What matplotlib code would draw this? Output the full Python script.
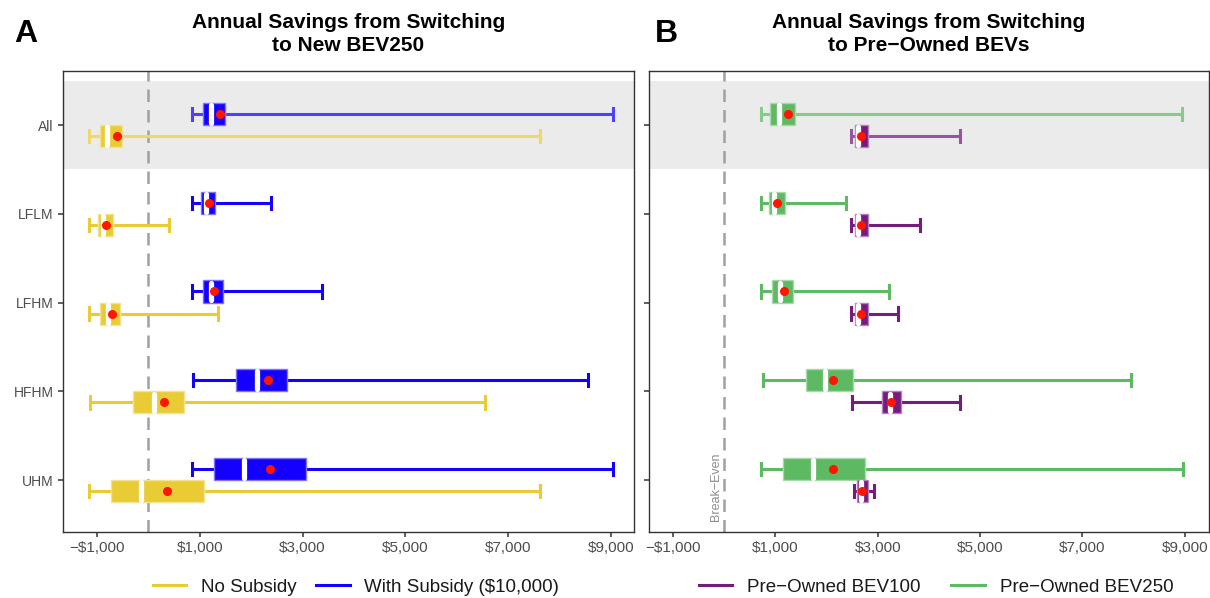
import matplotlib
matplotlib.use("Agg")
import matplotlib.pyplot as plt
from matplotlib.lines import Line2D

plt.rcParams["font.family"] = ["Liberation Sans", "DejaVu Sans"]

# Vehicle-use segments, top to bottom
categories = ["All", "LFLM", "LFHM", "HFHM", "UHM"]

# Box summaries per segment: whisker low, Q1, median, Q3, whisker high, mean
no_subsidy_lo = [-1157, -1157, -1151, -1136, -1151]
no_subsidy_q1 = [-948, -977, -940, -295, -730]
no_subsidy_med = [-804, -876, -788, 103, -136]
no_subsidy_q3 = [-520, -695, -557, 697, 1074]
no_subsidy_hi = [7624, 400, 1356, 6544, 7624]
no_subsidy_mean = [-608, -833, -716, 313, 363]

subsidy_lo = [841, 841, 841, 864, 849]
subsidy_q1 = [1053, 1030, 1068, 1703, 1270]
subsidy_med = [1212, 1117, 1212, 2117, 1865]
subsidy_q3 = [1488, 1305, 1451, 2703, 3074]
subsidy_hi = [9038, 2393, 3371, 8545, 9038]
subsidy_mean = [1398, 1175, 1282, 2321, 2364]

bev250_lo = [718, 718, 718, 748, 718]
bev250_q1 = [902, 881, 929, 1600, 1156]
bev250_med = [1071, 973, 1092, 1973, 1741]
bev250_q3 = [1373, 1184, 1338, 2515, 2748]
bev250_hi = [8955, 2382, 3221, 7940, 8963]
bev250_mean = [1254, 1037, 1162, 2128, 2120]

bev100_lo = [2474, 2480, 2480, 2488, 2529]
bev100_q1 = [2545, 2545, 2545, 3080, 2585]
bev100_med = [2621, 2621, 2621, 3248, 2664]
bev100_q3 = [2812, 2812, 2812, 3446, 2804]
bev100_hi = [4601, 3819, 3389, 4601, 2931]
bev100_mean = [2678, 2678, 2678, 3262, 2699]

x_ticks = [-1000, 1000, 3000, 5000, 7000, 9000]
x_labels = ["\u2212$1,000", "$1,000", "$3,000", "$5,000", "$7,000", "$9,000"]

YELLOW = "#E9CB36"
BLUE = "#1400FF"
GREEN = "#5DB962"
PURPLE = "#761C7F"

W, H = 1210, 598
fig = plt.figure(figsize=(W / 100, H / 100), dpi=100)


def frac_box(x0, x1, y0, y1):
    return [x0 / W, 1 - y1 / H, (x1 - x0) / W, (y1 - y0) / H]


axA = fig.add_axes(frac_box(63, 634, 71, 532))
axB = fig.add_axes(frac_box(648.5, 1209, 71, 532))

n = len(categories)
ypos = [n - i for i in range(n)]  # All at top


def blend(c, a):
    r, g, b = matplotlib.colors.to_rgb(c)
    return (1 - a + a * r, 1 - a + a * g, 1 - a + a * b)


def draw_series(ax, lo, q1, med, q3, hi, mean, color, offset):
    stats = []
    for i in range(n):
        stats.append(dict(whislo=lo[i], q1=q1[i], med=med[i], q3=q3[i],
                          whishi=hi[i], mean=mean[i], fliers=[]))
    pos = [p + offset for p in ypos]
    res = ax.bxp(stats, positions=pos, widths=0.25, orientation="horizontal",
                 patch_artist=True, showmeans=True, showfliers=False,
                 capwidths=0.14, manage_ticks=False,
                 boxprops=dict(facecolor=color, edgecolor=blend(color, 0.55), linewidth=1.0),
                 whiskerprops=dict(color=color, linewidth=2.2, solid_capstyle="butt"),
                 capprops=dict(color=color, linewidth=2.2),
                 medianprops=dict(color="white", linewidth=3.8, solid_capstyle="round"),
                 meanprops=dict(marker="o", markerfacecolor="#FF1500", markeredgecolor="#FF1500",
                                markersize=5.5))
    # Whiskers in the "All" row drawn slightly lighter over the shaded band
    for art in res["whiskers"][0:2] + res["caps"][0:2]:
        art.set_color(blend(color, 0.75))
    for m in res["medians"]:
        yd = m.get_ydata()
        c = (yd[0] + yd[1]) / 2
        m.set_ydata([c - 0.1, c + 0.1])
    for b in res["boxes"]:
        b.set_zorder(3)
    for m in res["medians"]:
        m.set_zorder(4)
    for m in res["means"]:
        m.set_zorder(5)


def style_axes(ax, xlim, show_ylabels):
    ax.axhspan(4.5, 5.5, color="#EBEBEB", zorder=0, linewidth=0)
    ax.axvline(0, color="#A0A0A0", linestyle=(0, (5, 3.2)), linewidth=1.8, zorder=1)
    ax.set_xlim(*xlim)
    ax.set_ylim(0.414, 5.61)
    ax.set_xticks(x_ticks)
    ax.set_xticklabels(x_labels)
    ax.set_yticks(ypos)
    if show_ylabels:
        ax.set_yticklabels(categories)
    else:
        ax.set_yticklabels([])
    for s in ax.spines.values():
        s.set_color("#333333")
        s.set_linewidth(1.0)
    ax.tick_params(axis="both", colors="#333333", labelcolor="#4D4D4D",
                   length=3.8, width=1.1, pad=3)
    ax.tick_params(axis="x", labelsize=11)
    ax.tick_params(axis="y", labelsize=10)


draw_series(axA, subsidy_lo, subsidy_q1, subsidy_med, subsidy_q3, subsidy_hi,
            subsidy_mean, BLUE, 0.125)
draw_series(axA, no_subsidy_lo, no_subsidy_q1, no_subsidy_med, no_subsidy_q3,
            no_subsidy_hi, no_subsidy_mean, YELLOW, -0.125)
style_axes(axA, (-1661, 9447), True)

draw_series(axB, bev250_lo, bev250_q1, bev250_med, bev250_q3, bev250_hi,
            bev250_mean, GREEN, 0.125)
draw_series(axB, bev100_lo, bev100_q1, bev100_med, bev100_q3, bev100_hi,
            bev100_mean, PURPLE, -0.125)
style_axes(axB, (-1481, 9473), False)

axB.text(-170, 0.92, "Break\u2212Even", rotation=90, ha="center", va="center",
         color="#8C8C8C", fontsize=9)

# Titles and panel letters
fig.text(348.5 / W, 1 - 34 / H, "Annual Savings from Switching\nto New BEV250",
         ha="center", va="center", fontsize=15, fontweight="bold", linespacing=1.3)
fig.text(929 / W, 1 - 34 / H, "Annual Savings from Switching\nto Pre\u2212Owned BEVs",
         ha="center", va="center", fontsize=15, fontweight="bold", linespacing=1.3)
fig.text(26 / W, 1 - 34 / H, "A", ha="center", va="center", fontsize=23, fontweight="bold")
fig.text(666 / W, 1 - 34 / H, "B", ha="center", va="center", fontsize=23, fontweight="bold")

# Legends
hA = [Line2D([], [], color=YELLOW, linewidth=2.2), Line2D([], [], color=BLUE, linewidth=2.2)]
fig.legend(hA, ["No Subsidy", "With Subsidy ($10,000)"], loc="center",
           bbox_to_anchor=(356 / W, 1 - 587 / H), ncol=2, frameon=False,
           fontsize=13.5, handlelength=1.8, columnspacing=1.0, handletextpad=0.8,
           labelcolor="#1A1A1A")
hB = [Line2D([], [], color=PURPLE, linewidth=2.2), Line2D([], [], color=GREEN, linewidth=2.2)]
fig.legend(hB, ["Pre\u2212Owned BEV100", "Pre\u2212Owned BEV250"], loc="center",
           bbox_to_anchor=(936 / W, 1 - 587 / H), ncol=2, frameon=False,
           fontsize=13.5, handlelength=1.8, columnspacing=1.6, handletextpad=0.8,
           labelcolor="#1A1A1A")

fig.savefig("out.png", dpi=100)
